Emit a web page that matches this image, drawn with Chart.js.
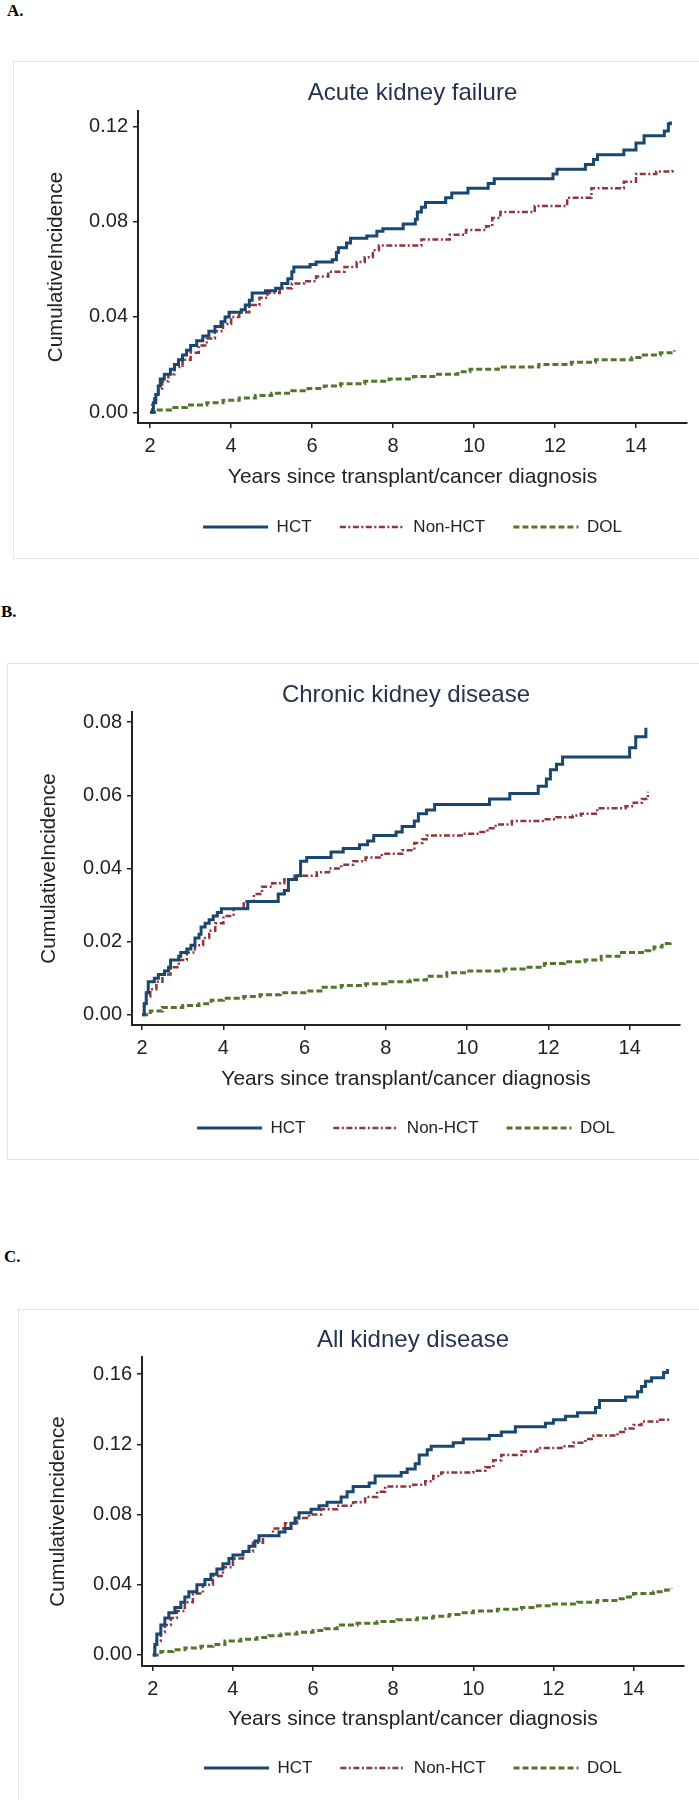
<!DOCTYPE html>
<html>
<head>
<meta charset="utf-8">
<title>Cumulative incidence of kidney disease</title>
<script src="https://cdn.jsdelivr.net/npm/chart.js@4.4.1/dist/chart.umd.min.js"></script>
<style>
  body { margin: 0; background: #fff; }
  #page { position: relative; width: 699px; height: 1800px; overflow: hidden; background: #fff; }
  .frame { position: absolute; border: 1px solid #e4e4e4; box-sizing: border-box; }
  .tag { position: absolute; font: bold 17px "Liberation Serif", "Times New Roman", serif; line-height: 17px; color: #000; }
  canvas { position: absolute; left: 0; }
</style>
</head>
<body>
<div id="page">
  <div class="frame" style="left:13px; top:61px; width:720px; height:498px"></div>
  <div class="frame" style="left:7px; top:663px; width:720px; height:497px"></div>
  <div class="frame" style="left:18px; top:1309px; width:720px; height:520px"></div>

  <div class="tag" style="left:7px; top:2px">A.</div>
  <div class="tag" style="left:1px; top:603px">B.</div>
  <div class="tag" style="left:4px; top:1248px">C.</div>

  <canvas id="chartA" width="699" height="498" style="top:61px"></canvas>
  <canvas id="chartB" width="699" height="497" style="top:663px"></canvas>
  <canvas id="chartC" width="699" height="491" style="top:1309px"></canvas>
</div>
<script>
const seriesNames = ['HCT', 'Non-HCT', 'DOL'];
const xTicks = [2, 4, 6, 8, 10, 12, 14];
const yTicksA = [0, 0.04, 0.08, 0.12];
const yTicksB = [0, 0.02, 0.04, 0.06, 0.08];
const yTicksC = [0, 0.04, 0.08, 0.12, 0.16];

// A. Acute kidney failure - [years, cumulative incidence]
const akfHct = [[2.0,0],[2.08,0.004],[2.14,0.0075],[2.2,0.011],[2.25,0.014],[2.35,0.016],[2.5,0.018],[2.6,0.020],[2.7,0.022],
  [2.8,0.024],[2.9,0.026],[3.0,0.028],[3.15,0.030],[3.3,0.032],[3.45,0.034],[3.6,0.036],[3.75,0.038],[3.85,0.040],
  [3.95,0.042],[4.25,0.043],[4.35,0.045],[4.45,0.047],[4.52,0.050],[4.85,0.051],[5.1,0.052],[5.25,0.054],[5.4,0.056],
  [5.5,0.059],[5.55,0.061],[5.95,0.062],[6.1,0.063],[6.5,0.064],[6.6,0.067],[6.65,0.069],[6.85,0.071],[6.95,0.073],
  [7.35,0.074],[7.6,0.076],[7.75,0.077],[8.25,0.079],[8.55,0.081],[8.6,0.084],[8.7,0.086],[8.8,0.088],[9.3,0.090],
  [9.45,0.092],[9.85,0.094],[10.35,0.096],[10.5,0.098],[11.95,0.100],[12.05,0.102],[12.75,0.104],[12.95,0.106],
  [13.05,0.108],[13.7,0.110],[14.0,0.113],[14.2,0.116],[14.7,0.118],[14.8,0.121],[14.85,0.122]];
const akfNon = [[2.0,0],[2.05,0.004],[2.1,0.007],[2.2,0.010],[2.3,0.013],[2.45,0.016],[2.6,0.019],[2.8,0.022],[3.0,0.025],
  [3.2,0.028],[3.4,0.031],[3.6,0.034],[3.8,0.037],[4.0,0.040],[4.2,0.042],[4.45,0.045],[4.7,0.048],[4.9,0.050],
  [5.2,0.052],[5.5,0.054],[5.8,0.055],[6.1,0.057],[6.4,0.059],[6.8,0.061],[7.1,0.063],[7.3,0.065],[7.5,0.068],
  [7.65,0.070],[8.7,0.0725],[9.4,0.0745],[9.8,0.0765],[10.3,0.078],[10.45,0.0815],[10.65,0.084],[11.5,0.0865],
  [12.3,0.090],[12.9,0.094],[13.7,0.0967],[14.0,0.100],[14.5,0.101],[14.9,0.102]];
const akfDol = [[2.0,0],[2.2,0.001],[2.5,0.002],[2.9,0.003],[3.4,0.004],[3.8,0.005],[4.2,0.006],[4.6,0.007],[5.0,0.008],
  [5.5,0.009],[5.9,0.010],[6.3,0.011],[6.7,0.012],[7.3,0.013],[7.9,0.014],[8.5,0.015],[9.1,0.016],[9.6,0.017],
  [9.9,0.018],[10.6,0.019],[11.6,0.020],[12.4,0.021],[13.0,0.022],[13.9,0.023],[14.1,0.024],[14.6,0.025],[14.95,0.026]];

// B. Chronic kidney disease
const ckdHct = [[2.0,0],[2.05,0.003],[2.1,0.006],[2.15,0.009],[2.3,0.010],[2.4,0.011],[2.55,0.012],[2.65,0.013],[2.7,0.015],
  [2.9,0.016],[2.95,0.017],[3.1,0.018],[3.2,0.019],[3.3,0.021],[3.4,0.022],[3.45,0.024],[3.55,0.025],[3.65,0.026],
  [3.75,0.027],[3.85,0.028],[3.95,0.029],[4.6,0.031],[5.35,0.033],[5.5,0.034],[5.6,0.037],[5.8,0.038],[5.9,0.042],
  [6.05,0.043],[6.65,0.0445],[6.95,0.0455],[7.35,0.0465],[7.55,0.0475],[7.7,0.049],[8.25,0.050],[8.4,0.0515],
  [8.7,0.053],[8.8,0.055],[9.0,0.056],[9.2,0.0575],[10.55,0.059],[11.05,0.0605],[11.75,0.0625],[11.95,0.0645],
  [12.05,0.067],[12.2,0.0685],[12.35,0.0705],[14.0,0.073],[14.15,0.076],[14.4,0.0785]];
const ckdNon = [[2.0,0],[2.05,0.003],[2.1,0.005],[2.2,0.007],[2.35,0.009],[2.5,0.011],[2.7,0.013],[2.9,0.015],[3.1,0.017],
  [3.3,0.019],[3.5,0.021],[3.65,0.023],[3.8,0.025],[4.0,0.027],[4.25,0.029],[4.5,0.031],[4.75,0.033],[4.95,0.035],
  [5.2,0.036],[5.5,0.037],[5.75,0.038],[6.3,0.039],[6.6,0.040],[6.9,0.041],[7.2,0.042],[7.5,0.043],[7.9,0.044],
  [8.4,0.045],[8.7,0.047],[8.9,0.048],[9.0,0.049],[9.9,0.0495],[10.3,0.050],[10.5,0.051],[10.7,0.052],[11.1,0.053],
  [11.9,0.0535],[12.2,0.054],[12.6,0.0545],[12.8,0.055],[13.2,0.0565],[13.9,0.057],[14.1,0.058],[14.3,0.059],[14.45,0.061]];
const ckdDol = [[2.0,0],[2.2,0.001],[2.5,0.002],[3.0,0.0025],[3.4,0.003],[3.7,0.004],[4.0,0.0045],[4.5,0.005],[4.9,0.0055],
  [5.4,0.006],[6.0,0.0065],[6.4,0.0075],[6.9,0.008],[7.5,0.0085],[8.0,0.009],[8.6,0.0095],[9.0,0.0105],[9.5,0.0115],
  [10.0,0.012],[10.9,0.0125],[11.4,0.013],[11.9,0.014],[12.4,0.0145],[12.9,0.015],[13.3,0.016],[13.8,0.017],
  [14.4,0.0175],[14.6,0.0185],[14.8,0.0195],[15.0,0.0205]];

// C. All kidney disease
const allHct = [[2.0,0],[2.05,0.006],[2.1,0.012],[2.2,0.017],[2.3,0.021],[2.4,0.024],[2.55,0.027],[2.7,0.030],[2.8,0.033],
  [2.9,0.036],[3.1,0.040],[3.3,0.043],[3.45,0.046],[3.6,0.049],[3.75,0.052],[3.9,0.055],[4.0,0.057],[4.25,0.059],
  [4.4,0.062],[4.55,0.065],[4.65,0.068],[5.15,0.070],[5.3,0.072],[5.45,0.075],[5.55,0.078],[5.65,0.081],[5.95,0.083],
  [6.15,0.085],[6.35,0.087],[6.7,0.090],[6.85,0.093],[7.0,0.096],[7.4,0.098],[7.55,0.102],[8.2,0.104],[8.35,0.106],
  [8.55,0.109],[8.65,0.114],[8.85,0.117],[8.95,0.119],[9.5,0.121],[9.75,0.123],[10.4,0.125],[10.7,0.127],[11.05,0.130],
  [11.8,0.132],[12.0,0.134],[12.3,0.136],[12.6,0.138],[13.05,0.141],[13.15,0.145],[13.8,0.147],[14.1,0.150],
  [14.2,0.153],[14.3,0.156],[14.45,0.158],[14.75,0.161],[14.85,0.163]];
const allNon = [[2.0,0],[2.05,0.004],[2.1,0.008],[2.2,0.013],[2.3,0.017],[2.45,0.021],[2.6,0.025],[2.8,0.030],[3.0,0.035],
  [3.25,0.040],[3.5,0.045],[3.75,0.050],[4.0,0.055],[4.25,0.059],[4.5,0.064],[4.75,0.068],[5.0,0.072],[5.3,0.075],
  [5.6,0.078],[5.9,0.080],[6.2,0.083],[6.6,0.085],[7.0,0.087],[7.3,0.090],[7.6,0.093],[7.8,0.096],[8.5,0.097],
  [8.8,0.099],[9.0,0.102],[9.2,0.104],[10.0,0.105],[10.3,0.107],[10.5,0.111],[10.7,0.114],[11.2,0.116],[11.6,0.118],
  [12.2,0.119],[12.5,0.121],[12.8,0.123],[13.0,0.125],[13.6,0.127],[13.8,0.129],[14.0,0.131],[14.2,0.133],
  [14.6,0.134],[14.9,0.135]];
const allDol = [[2.0,0],[2.2,0.002],[2.5,0.003],[2.8,0.004],[3.2,0.005],[3.5,0.006],[3.8,0.008],[4.2,0.009],[4.6,0.010],
  [4.9,0.011],[5.2,0.012],[5.6,0.013],[6.0,0.014],[6.3,0.015],[6.6,0.017],[7.1,0.018],[7.6,0.019],[8.1,0.020],
  [8.6,0.021],[9.0,0.022],[9.4,0.023],[9.7,0.024],[10.0,0.025],[10.6,0.026],[11.2,0.027],[11.6,0.028],[12.0,0.029],
  [12.6,0.030],[13.1,0.031],[13.6,0.032],[13.8,0.033],[14.0,0.035],[14.5,0.036],[14.8,0.037],[14.95,0.038]];

const lineColors = ['#1a476f', '#90353b', '#55752f'];
const lineDashes = [[], [6, 2.5, 2, 2.5], [6, 3]];
const lineWidths = [3, 2.5, 3];

Chart.defaults.font.family = '"Liberation Sans", Arial, Helvetica, sans-serif';
Chart.defaults.color = '#222';

const panels = [
  {id: 'chartA', height: 498, title: 'Acute kidney failure', left: 138, right: 687, titleY: 32.8, chartTop: 50,
   chartBottom: 362, yTitleX: 56, xTitleY: 416.6, legendY: 466, xMin: 1.70, xMax: 15.26, yMin: -0.0045, yMax: 0.1264,
   yTicks: yTicksA, series: [akfHct, akfNon, akfDol]},
  {id: 'chartB', height: 497, title: 'Chronic kidney disease', left: 132, right: 680, titleY: 32, chartTop: 49,
   chartBottom: 362, yTitleX: 49, xTitleY: 416, legendY: 465, xMin: 1.75, xMax: 15.24, yMin: -0.0028, yMax: 0.0828,
   yTicks: yTicksB, series: [ckdHct, ckdNon, ckdDol]},
  {id: 'chartC', height: 491, title: 'All kidney disease', left: 142, right: 684, titleY: 31, chartTop: 48,
   chartBottom: 357, yTitleX: 58, xTitleY: 410, legendY: 459, xMin: 1.73, xMax: 15.26, yMin: -0.0063, yMax: 0.1698,
   yTicks: yTicksC, series: [allHct, allNon, allDol]}
];

// legend samples: take dash and width from the lines, not from the (hidden) points
function legendLabels(chart) {
  const items = Chart.defaults.plugins.legend.labels.generateLabels(chart);
  items.forEach(it => {
    const i = it.datasetIndex;
    it.lineDash = lineDashes[i];
    it.lineWidth = lineWidths[i];
    it.strokeStyle = lineColors[i];
  });
  return items;
}

function buildChart(p) {
  const datasets = p.series.map((pts, i) => ({
    label: seriesNames[i],
    data: pts.map(pt => ({x: pt[0], y: pt[1]})),
    borderColor: lineColors[i],
    backgroundColor: lineColors[i],
    borderWidth: lineWidths[i],
    borderDash: lineDashes[i],
    stepped: true,
    pointRadius: 0,
    fill: false
  }));

  const xHeight = p.xTitleY - p.chartBottom + 12.6;
  const legendPad = p.legendY - (p.chartBottom + xHeight) - 8.5;
  const legendHeight = 17 + legendPad + 10;
  const titleTop = p.titleY - 14.4;

  return new Chart(document.getElementById(p.id), {
    type: 'line',
    data: {datasets: datasets},
    options: {
      responsive: false,
      animation: false,
      layout: {
        padding: {left: 0, top: 0, right: 699 - p.right, bottom: p.height - p.chartBottom - xHeight - legendHeight}
      },
      scales: {
        x: {
          type: 'linear',
          min: p.xMin,
          max: p.xMax,
          afterBuildTicks: s => { s.ticks = xTicks.map(v => ({value: v})); },
          afterFit: s => { s.height = xHeight; },
          ticks: {font: {size: 20}, padding: 6, autoSkip: false, maxRotation: 0, callback: v => String(v)},
          grid: {drawOnChartArea: false, drawTicks: true, tickLength: 5, color: '#222', lineWidth: 1.5},
          border: {display: true, color: '#222', width: 2},
          title: {display: true, text: 'Years since transplant/cancer diagnosis', font: {size: 21},
                  padding: {top: 0, bottom: 0}}
        },
        y: {
          type: 'linear',
          min: p.yMin,
          max: p.yMax,
          afterBuildTicks: s => { s.ticks = p.yTicks.map(v => ({value: v})); },
          afterFit: s => { s.width = p.left; },
          ticks: {font: {size: 20}, padding: 5, autoSkip: false, callback: v => v.toFixed(2)},
          grid: {drawOnChartArea: false, drawTicks: true, tickLength: 5, color: '#222', lineWidth: 1.5},
          border: {display: true, color: '#222', width: 2},
          title: {display: true, text: 'CumulativeIncidence', font: {size: 20.5},
                  padding: {top: p.yTitleX - 12.3, bottom: 0}}
        }
      },
      plugins: {
        title: {
          display: true,
          text: p.title,
          fullSize: false,
          color: '#26334f',
          font: {size: 24, weight: 'normal'},
          padding: {top: titleTop, bottom: p.chartTop - titleTop - 28.8}
        },
        legend: {
          position: 'bottom',
          fullSize: false,
          labels: {
            usePointStyle: true,
            pointStyle: 'line',
            pointStyleWidth: 65,
            boxHeight: 10,
            padding: legendPad,
            color: '#222',
            font: {size: 17},
            generateLabels: legendLabels
          }
        },
        tooltip: {enabled: false}
      }
    }
  });
}

panels.forEach(buildChart);
</script>
</body>
</html>
